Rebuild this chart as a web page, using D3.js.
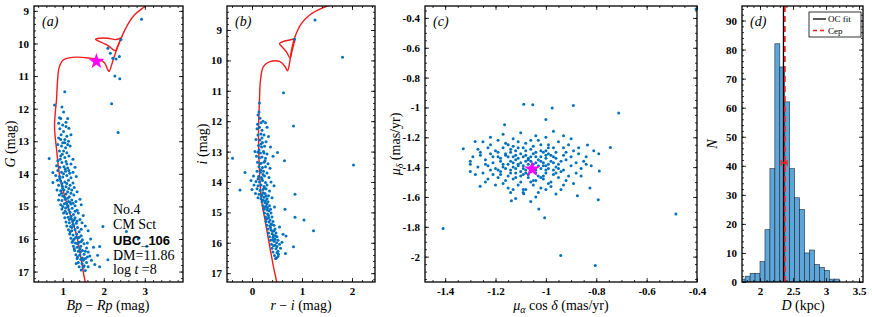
<!DOCTYPE html>
<html>
<head>
<meta charset="utf-8">
<script src="https://cdn.jsdelivr.net/npm/d3@7"></script>
<style>
  body { margin: 0; background: #fff; }
  text { font-family: "Liberation Serif", "Times New Roman", serif; fill: #000; }
</style>
</head>
<body>
<div id="vis"></div>
<script>
// ---- data ----
// (a) Gaia CMD: [Bp-Rp, G]
let cmdA = [
  [1.05,11.48],[0.80,11.89],[0.98,11.95],[1.02,12.1],[0.92,12.28],[0.95,12.3],[1.12,12.3],[0.90,12.45],[1.0,12.5],[1.08,12.42],
  [0.93,12.62],[1.02,12.7],[1.15,12.6],[0.96,12.8],[1.1,12.85],[1.2,12.8],[0.9,12.9],[1.05,12.95],[1.0,13.05],[1.14,13.0],
  [0.88,13.1],[0.97,13.15],[1.07,13.2],[1.18,13.15],[0.92,13.3],[1.02,13.3],[1.1,13.35],[0.67,13.53],[0.95,13.45],[1.05,13.5],
  [1.15,13.45],[1.25,13.55],[0.88,13.6],[0.98,13.65],[1.08,13.62],[1.2,13.7],[0.85,13.75],[0.93,13.8],[1.03,13.78],[1.12,13.82],
  [1.3,13.8],[0.76,13.96],[0.88,13.9],[0.97,13.95],[1.07,13.92],[1.17,13.98],[1.25,13.95],[0.83,14.05],[0.92,14.08],[1.0,14.1],
  [1.1,14.05],[1.2,14.12],[1.33,14.08],[0.76,14.27],[0.87,14.2],[0.95,14.22],[1.05,14.25],[1.14,14.2],[1.25,14.28],[0.9,14.35],
  [0.99,14.38],[1.08,14.4],[1.18,14.35],[1.28,14.42],[0.86,14.5],[0.95,14.52],[1.03,14.5],[1.12,14.55],[1.22,14.5],[1.35,14.55],
  [0.92,14.65],[1.0,14.68],[1.08,14.62],[1.16,14.7],[1.27,14.65],[0.9,14.8],[0.98,14.82],[1.06,14.78],[1.14,14.85],[1.22,14.8],
  [1.32,14.85],[1.42,14.78],[0.95,14.95],[1.04,14.92],[1.12,14.97],[1.2,14.93],[1.3,14.98],[1.45,14.95],[0.98,15.08],[1.07,15.05],
  [1.15,15.1],[1.23,15.06],[1.35,15.12],[1.02,15.2],[1.1,15.22],[1.18,15.18],[1.26,15.25],[1.38,15.2],[1.5,15.28],[1.05,15.35],
  [1.13,15.33],[1.21,15.38],[1.3,15.35],[1.42,15.4],[1.08,15.48],[1.16,15.5],[1.24,15.46],[1.33,15.52],[1.47,15.5],[1.1,15.6],
  [1.19,15.62],[1.27,15.6],[1.36,15.65],[1.55,15.6],[1.98,15.62],[1.14,15.72],[1.22,15.75],[1.3,15.72],[1.4,15.78],[1.62,15.75],
  [2.55,15.77],[1.17,15.85],[1.25,15.88],[1.34,15.85],[1.45,15.9],[1.2,15.98],[1.28,16.0],[1.37,15.97],[1.48,16.02],[1.68,16.0],
  [2.84,16.0],[1.23,16.1],[1.31,16.12],[1.4,16.1],[1.52,16.15],[1.9,16.23],[3.05,16.22],[1.26,16.22],[1.35,16.25],[1.44,16.22],
  [1.58,16.28],[1.75,16.25],[1.29,16.35],[1.38,16.38],[1.48,16.35],[1.62,16.4],[1.32,16.48],[1.41,16.5],[1.52,16.47],[1.66,16.52],
  [1.85,16.5],[2.1,16.64],[1.35,16.6],[1.44,16.62],[1.55,16.6],[1.7,16.65],[1.38,16.72],[1.47,16.75],[1.58,16.72],[1.78,16.78],
  [1.4,16.85],[1.5,16.87],[1.62,16.85],[1.9,16.85],[1.45,16.95],[1.55,16.97],[2.4,16.6],
  [1.0,14.45],[1.1,14.3],[1.2,14.6],[1.05,14.72],[1.25,14.9],[1.13,15.0],[1.3,15.15],[1.2,15.3],[1.35,15.45],[1.25,15.55],
  [1.45,15.7],[1.32,15.95],[1.42,16.3],[1.36,16.55],[1.5,16.65],[1.45,16.08],[1.55,16.38],[1.6,16.12],[1.28,15.42],[1.18,14.88],
  [0.97,14.6],[1.06,13.85],[0.99,13.4],[1.12,13.1],[1.08,12.55],
  [0.94,13.55],[1.1,13.7],[1.02,14.0],[0.93,14.15],[1.15,14.45],[1.09,14.9],[1.0,15.0],[1.16,15.4],[1.22,15.65],[1.28,16.3],
  [1.33,16.75],[1.43,16.4],[1.36,16.15],[1.25,16.05],[1.18,15.78],[1.06,15.15],[1.12,14.75],[0.98,14.3],[1.4,15.95],[1.52,16.82],
  [1.48,16.58],[1.6,16.55],[1.15,13.9],[1.05,13.05],[0.95,12.95],
  [2.92,9.26],[2.1,10.15],[2.16,10.3],[2.22,10.45],[2.3,10.48],[2.38,10.4],[2.42,9.88],[2.27,11.0],[2.39,11.08],[2.19,11.85],[2.35,12.73]
];
// (a) isochrone, main branch and blue loop: [Bp-Rp, G]
let isoA = [
  [1.56,17.4],[1.50,17.0],[1.41,16.33],[1.32,15.8],[1.17,15.2],[1.05,14.7],[0.93,14.1],[0.85,13.26],[0.80,12.56],[0.82,12.1],
  [0.85,11.7],[0.87,11.2],[0.91,10.75],[0.98,10.55],[1.05,10.48],[1.33,10.42],[1.66,10.45],[1.9,10.5],[2.02,10.6],[2.1,10.81],
  [2.13,10.86],[2.18,10.7],[2.23,10.5],[2.31,10.2],[2.39,9.94],[2.5,9.62],[2.6,9.38],[2.75,9.12],[2.9,8.96],[3.05,8.82]
];
let loopA = [
  [2.43,9.82],[2.3,9.88],[2.1,9.84],[1.9,9.84],[1.8,9.87],[1.95,9.97],[2.12,10.08],[2.24,10.2],[2.29,10.22],[2.34,10.08],[2.42,9.85]
];
// (b) SDSS-like CMD: [r-i, i]
let cmdB = [
  [0.15,11.4],[0.14,11.7],[0.12,11.8],[0.16,11.9],[0.22,12.0],[0.11,12.1],[0.18,12.05],[0.27,12.05],[0.1,12.25],[0.15,12.2],
  [0.2,12.3],[0.3,12.2],[0.12,12.45],[0.18,12.42],[0.24,12.45],[0.33,12.5],[0.08,12.6],[0.16,12.62],[0.21,12.7],[0.28,12.68],
  [0.13,12.8],[0.19,12.85],[0.25,12.82],[0.37,12.85],[0.06,13.0],[0.12,13.02],[0.17,13.05],[0.23,13.0],[0.3,13.08],[0.51,13.03],
  [0.09,13.15],[0.15,13.2],[0.2,13.18],[0.27,13.22],[0.42,13.15],[-0.39,13.22],[0.65,13.3],[0.11,13.35],[0.18,13.38],[0.24,13.35],
  [0.32,13.4],[0.14,13.5],[0.21,13.52],[0.27,13.5],[0.36,13.55],[-0.14,13.69],[0.1,13.65],[0.17,13.68],[0.23,13.65],[0.3,13.7],
  [0.03,13.8],[0.13,13.82],[0.19,13.85],[0.25,13.8],[0.34,13.85],[-0.02,13.95],[0.08,13.98],[0.15,14.0],[0.21,13.95],[0.27,14.02],
  [0.38,14.0],[0.04,14.1],[0.12,14.12],[0.18,14.1],[0.24,14.15],[0.3,14.1],[0.44,14.12],[-0.24,14.26],[0.0,14.25],[0.1,14.22],
  [0.16,14.28],[0.22,14.25],[0.28,14.22],[0.35,14.3],[0.86,14.4],[0.07,14.38],[0.14,14.4],[0.2,14.42],[0.26,14.38],[0.33,14.45],
  [0.12,14.52],[0.18,14.55],[0.24,14.5],[0.3,14.55],[0.4,14.52],[0.2,14.65],[0.26,14.68],[0.32,14.65],[0.22,14.78],[0.28,14.8],
  [0.35,14.78],[0.45,14.82],[0.24,14.9],[0.3,14.92],[0.37,14.9],[0.66,14.9],[0.25,15.02],[0.31,15.05],[0.38,15.02],[0.27,15.15],
  [0.33,15.18],[0.4,15.15],[0.86,15.16],[1.04,15.25],[0.28,15.3],[0.34,15.32],[0.42,15.3],[0.3,15.42],[0.36,15.45],[0.44,15.42],
  [0.55,15.48],[0.32,15.55],[0.38,15.58],[0.46,15.55],[1.23,15.6],[0.33,15.68],[0.4,15.7],[0.48,15.68],[0.62,15.72],[0.35,15.8],
  [0.42,15.82],[0.5,15.8],[0.68,15.78],[0.37,15.92],[0.44,15.95],[0.52,15.92],[0.6,15.98],[0.39,16.05],[0.46,16.08],[0.55,16.05],
  [0.83,16.13],[0.4,16.18],[0.48,16.2],[0.57,16.18],[0.67,16.35],[0.42,16.3],[0.5,16.33],[0.45,16.42],[0.52,16.45],[0.47,16.52],
  [0.22,14.6],[0.28,14.45],[0.3,14.72],[0.25,14.85],[0.33,15.1],[0.36,15.25],[0.38,15.38],[0.41,15.62],[0.43,15.75],[0.46,15.88],
  [0.49,16.0],[0.52,16.28],[0.25,14.2],[0.2,13.9],[0.18,13.6],[0.26,13.3],[0.14,12.95],[0.2,12.55],
  [0.22,14.35],[0.27,14.62],[0.31,14.85],[0.34,14.95],[0.29,15.22],[0.37,15.5],[0.4,15.4],[0.44,15.6],[0.47,15.78],[0.41,15.9],
  [0.5,16.12],[0.53,16.38],[0.43,16.1],[0.49,16.5],[0.16,13.4],[0.22,13.75],[0.19,14.45],[0.12,13.9],[0.24,13.05],[0.18,12.75],
  [1.26,8.67],[0.85,9.3],[1.81,9.9],[2.03,13.44],[0.63,11.06],[0.83,12.16]
];
let isoB = [
  [0.51,17.4],[0.43,16.79],[0.33,15.9],[0.26,15.25],[0.19,14.6],[0.15,13.7],[0.13,12.4],[0.15,11.3],[0.17,10.65],[0.23,10.2],
  [0.36,10.04],[0.56,10.04],[0.66,10.2],[0.71,10.34],[0.75,10.1],[0.79,9.66],[0.86,9.22],[0.99,8.78],[1.16,8.5],[1.39,8.29],[1.6,8.15]
];
let loopB = [
  [0.86,9.28],[0.75,9.33],[0.62,9.38],[0.55,9.45],[0.6,9.55],[0.69,9.72],[0.76,9.92],[0.8,9.7],[0.86,9.3]
];
// (c) proper motions: [pmra cos dec, pmdec] in mas/yr
let pmC = [
  [-1.17,-1.18],[-1.1,-1.17],[-1.04,-1.19],[-0.97,-1.16],[-0.93,-1.19],[-1.22,-1.2],[-1.0,-1.2],
  [-1.25,-1.23],[-1.19,-1.22],[-1.13,-1.21],[-1.08,-1.24],[-1.03,-1.22],[-0.99,-1.25],[-0.95,-1.23],[-0.9,-1.21],[-1.15,-1.25],[-1.22,-1.25],
  [-1.27,-1.28],[-1.23,-1.27],[-1.2,-1.29],[-1.17,-1.27],[-1.14,-1.3],[-1.11,-1.27],[-1.08,-1.29],[-1.05,-1.26],[-1.02,-1.29],[-0.99,-1.27],
  [-0.96,-1.3],[-0.93,-1.27],[-0.89,-1.29],[-1.13,-1.26],
  [-1.26,-1.32],[-1.22,-1.31],[-1.19,-1.33],[-1.16,-1.31],[-1.13,-1.33],[-1.1,-1.31],[-1.07,-1.34],[-1.05,-1.31],[-1.02,-1.33],[-0.99,-1.31],
  [-0.96,-1.34],[-0.93,-1.32],[-0.9,-1.33],[-0.87,-1.31],[-1.18,-1.34],[-1.09,-1.33],[-1.0,-1.34],
  [-1.3,-1.36],[-1.24,-1.35],[-1.21,-1.37],[-1.18,-1.36],[-1.15,-1.38],[-1.12,-1.35],[-1.1,-1.37],[-1.08,-1.36],[-1.05,-1.38],[-1.03,-1.35],
  [-1.01,-1.37],[-0.98,-1.36],[-0.95,-1.38],[-0.92,-1.35],[-0.88,-1.37],[-0.85,-1.36],[-1.14,-1.36],[-1.07,-1.35],[-0.97,-1.37],
  [-1.27,-1.4],[-1.23,-1.39],[-1.2,-1.41],[-1.17,-1.4],[-1.14,-1.42],[-1.11,-1.39],[-1.09,-1.41],[-1.06,-1.4],[-1.04,-1.42],[-1.01,-1.39],
  [-0.99,-1.41],[-0.96,-1.4],[-0.93,-1.42],[-0.9,-1.39],[-0.86,-1.41],[-1.12,-1.41],[-1.02,-1.41],
  [-1.25,-1.44],[-1.21,-1.45],[-1.18,-1.43],[-1.15,-1.46],[-1.12,-1.44],[-1.09,-1.45],[-1.06,-1.43],[-1.03,-1.46],[-1.0,-1.44],[-0.97,-1.45],
  [-0.94,-1.43],[-0.91,-1.46],[-0.88,-1.44],[-1.08,-1.44],
  [-1.23,-1.48],[-1.19,-1.47],[-1.16,-1.49],[-1.13,-1.48],[-1.1,-1.5],[-1.07,-1.47],[-1.04,-1.49],[-1.01,-1.48],[-0.98,-1.5],[-0.95,-1.47],[-0.92,-1.49],
  [-1.2,-1.52],[-1.15,-1.54],[-1.11,-1.52],[-1.08,-1.55],[-1.05,-1.52],[-1.02,-1.54],[-0.98,-1.53],[-0.94,-1.55],[-1.09,-1.55],
  [-1.16,-1.32],[-1.12,-1.32],[-1.08,-1.32],[-1.04,-1.33],[-1.0,-1.32],[-0.97,-1.33],[-1.11,-1.38],[-1.07,-1.38],[-1.03,-1.39],[-0.99,-1.38],
  [-1.13,-1.4],[-1.08,-1.42],[-1.05,-1.41],[-1.0,-1.42],[-0.97,-1.42],[-1.1,-1.43],[-1.04,-1.44],[-1.16,-1.41],[-1.06,-1.36],[-1.02,-1.36],
  [-1.14,-1.28],[-1.06,-1.28],[-1.0,-1.29],[-1.1,-1.46],[-1.02,-1.47],
  [-1.19,-1.3],[-1.15,-1.33],[-1.11,-1.34],[-1.06,-1.33],[-1.01,-1.3],[-0.98,-1.32],[-0.94,-1.36],[-1.17,-1.38],[-1.13,-1.37],[-1.09,-1.39],
  [-1.04,-1.37],[-1.0,-1.39],[-0.95,-1.41],[-1.19,-1.42],[-1.14,-1.44],[-1.07,-1.45],[-1.01,-1.46],[-0.96,-1.44],[-1.12,-1.47],[-1.05,-1.49],
  [-0.99,-1.51],[-1.17,-1.51],[-1.13,-1.55],[-1.03,-1.57],[-0.96,-1.58],[-1.21,-1.33],[-1.24,-1.38],[-1.29,-1.33],[-0.84,-1.33],[-0.82,-1.39],
  [-0.86,-1.46],[-0.89,-1.51],[-1.11,-1.23],[-1.06,-1.22],[-1.02,-1.25],[-0.97,-1.27],[-0.92,-1.3],[-1.09,-1.27],[-1.16,-1.24],[-1.26,-1.3],
  [-1.18,-1.45],[-1.22,-1.42],[-1.06,-1.5],[-0.93,-1.52],[-1.0,-1.55],[-1.14,-1.57],[-1.24,-1.5],[-0.91,-1.25],[-0.87,-1.27],[-1.04,-1.3],
  [-1.12,-1.29],
  [-1.408,-1.812],[-1.328,-1.277],[-1.281,-1.228],[-1.261,-1.529],[-1.28,-1.45],[-1.137,-1.625],[-1.12,-1.61],[-1.088,-1.578],
  [-1.088,-0.978],[-1.164,-1.116],[-1.3,-1.38],[-1.3,-1.43],[-0.404,-0.34],[-1.052,-0.982],[-0.975,-1.004],[-0.891,-0.987],
  [-0.711,-1.038],[-1.0,-1.08],[-0.744,-1.268],[-0.835,-1.252],[-0.81,-1.29],[-0.79,-1.31],[-0.788,-1.426],[-0.84,-1.38],
  [-0.875,-1.592],[-0.825,-1.54],[-0.792,-1.618],[-1.028,-1.68],[-1.005,-1.74],[-1.06,-1.63],[-0.941,-1.993],[-0.804,-2.06],
  [-0.484,-1.714],[-1.09,-1.57],[-1.04,-1.6]
];
let cepA = [1.82, 10.55];
let cepC = [-1.055, -1.413];
// (d) distance histogram
let distEdges = [1.70,1.775,1.85,1.925,2.0,2.075,2.15,2.225,2.3,2.375,2.45,2.525,2.6,2.675,2.75,2.825,2.9,2.975,3.05,3.125,3.2];
let distCounts = [1,2,3,3,7,18,39,82,74,62,39,29,25,10,11,6,5,4,1,1];
let ocFit = 2.355, cepD = 2.375, cepErr = [2.32, 2.41], errN = 41;

// ---- layout ----
let W = 872, H = 317, pTop = 6, pBottom = 282, ph = pBottom - pTop;
let blue = '#0072BD', red = '#ee1c1c';
let serif = '"Liberation Serif", "Times New Roman", serif';

let svg = d3.select('#vis').append('svg')
  .attr('width', W).attr('height', H)
  .attr('viewBox', [0, 0, W, H].join(' '));

let fmt = d => String(+d.toFixed(2));
let step = (a, b, s) => d3.range(Math.round((b - a) / s) + 1).map(i => +(a + i * s).toFixed(3));

function panel(o) {
  let w = o.right - o.left;
  let g = svg.append('g').attr('transform', `translate(${o.left},${pTop})`);
  let x = d3.scaleLinear().domain(o.xd).range([0, w]);
  let y = d3.scaleLinear().domain(o.yd).range(o.flip ? [0, ph] : [ph, 0]);

  g.append('clipPath').attr('id', 'clip' + o.id)
    .append('rect').attr('width', w).attr('height', ph);
  let plot = g.append('g').attr('clip-path', `url(#clip${o.id})`);

  function ax(gen, sc, vals, size, labels, tr) {
    g.append('g').attr('transform', tr)
      .call(gen(sc).tickValues(vals).tickSize(size).tickPadding(5)
        .tickFormat(labels ? fmt : () => ''))
      .call(s => s.select('.domain').remove())
      .call(s => s.selectAll('line').attr('stroke', '#000').attr('stroke-width', 0.8))
      .call(s => s.selectAll('text').style('font-family', serif)
        .style('font-weight', 'bold').style('font-size', '11px'));
  }
  let xm = o.xm.filter(v => v > o.xd[0] && v < o.xd[1]);
  let ym = o.ym.filter(v => v > d3.min(o.yd) && v < d3.max(o.yd));
  ax(d3.axisBottom, x, o.xt, -4, true, `translate(0,${ph})`);
  ax(d3.axisBottom, x, xm, -2, false, `translate(0,${ph})`);
  ax(d3.axisTop, x, o.xt, -4, false, 'translate(0,0)');
  ax(d3.axisTop, x, xm, -2, false, 'translate(0,0)');
  ax(d3.axisLeft, y, o.yt, -4, true, 'translate(0,0)');
  ax(d3.axisLeft, y, ym, -2, false, 'translate(0,0)');
  ax(d3.axisRight, y, o.yt, -4, false, `translate(${w},0)`);
  ax(d3.axisRight, y, ym, -2, false, `translate(${w},0)`);

  g.append('text').attr('x', 8).attr('y', 20)
    .style('font-size', '14px').style('font-style', 'italic').text(`(${o.id})`);

  return {g, plot, x, y, w};
}

function frame(p) {
  p.g.append('rect').attr('width', p.w).attr('height', ph)
    .attr('fill', 'none').attr('stroke', '#000').attr('stroke-width', 1.3);
}

function dots(p, data) {
  p.plot.selectAll(null).data(data).enter().append('circle')
    .attr('cx', d => p.x(d[0])).attr('cy', d => p.y(d[1]))
    .attr('r', 1.5).attr('fill', blue);
}

function curve(p, data) {
  p.plot.append('path').datum(data)
    .attr('d', d3.line().x(d => p.x(d[0])).y(d => p.y(d[1])).curve(d3.curveCatmullRom))
    .attr('fill', 'none').attr('stroke', red).attr('stroke-width', 1.4);
}

function star(p, d) {
  p.plot.append('path')
    .attr('d', d3.symbol(d3.symbolStar).size(80)())
    .attr('transform', `translate(${p.x(d[0])},${p.y(d[1])})`)
    .attr('fill', '#ff00ff');
}

// text pieces: [string, 'i' italic | 'sub' italic subscript]
function addParts(t, parts) {
  let shifted = false;
  parts.forEach(p => {
    let s = t.append('tspan').text(p[0]);
    if (p[1] === 'i') s.style('font-style', 'italic');
    if (p[1] === 'sub') {
      s.attr('dy', 3).style('font-size', '10px').style('font-style', 'italic');
      shifted = true;
    } else if (shifted) {
      s.attr('dy', -3);
      shifted = false;
    }
  });
}

function xlabel(cx, parts) {
  let t = svg.append('text').attr('x', cx).attr('y', 310)
    .attr('text-anchor', 'middle').style('font-size', '14px');
  addParts(t, parts);
}

function ylabel(cx, cy, parts) {
  let t = svg.append('text').attr('transform', `translate(${cx + 5},${cy}) rotate(-90)`)
    .attr('text-anchor', 'middle').style('font-size', '14px');
  addParts(t, parts);
}

// ---- (a) ----
let pa = panel({id: 'a', left: 34, right: 183, xd: [0.3, 3.93], yd: [8.85, 17.32], flip: true,
  xt: [1, 2, 3], xm: step(0.2, 3.8, 0.2), yt: step(9, 17, 1), ym: step(8.8, 17.4, 0.2)});
curve(pa, isoA);
curve(pa, loopA);
dots(pa, cmdA);
star(pa, cepA);
let note = pa.g.append('g').attr('transform', 'translate(79,0)');
[['No.4', 210], ['CM Sct', 225], ['DM=11.86', 256]].forEach(d => {
  note.append('text').attr('x', 0).attr('y', d[1] - pTop + 4).style('font-size', '14px').text(d[0]);
});
addParts(note.append('text').attr('x', 0).attr('y', 270 - pTop + 4).style('font-size', '14px'),
  [['log '], ['t', 'i'], [' =8']]);
note.append('text').attr('x', 0).attr('y', 241 - pTop + 4)
  .style('font-family', '"Liberation Sans", Arial, sans-serif').style('font-weight', 'bold')
  .style('font-size', '13px').text('UBC_106');
frame(pa);

// ---- (b) ----
let pb = panel({id: 'b', left: 227, right: 375, xd: [-0.5, 2.46], yd: [8.21, 17.29], flip: true,
  xt: [0, 1, 2], xm: step(-0.4, 2.4, 0.2), yt: step(9, 17, 1), ym: step(8.2, 17.4, 0.2)});
curve(pb, isoB);
curve(pb, loopB);
dots(pb, cmdB);
frame(pb);

// ---- (c) ----
let pc = panel({id: 'c', left: 425, right: 697, xd: [-1.48, -0.4], yd: [-2.17, -0.32],
  xt: step(-1.4, -0.4, 0.2), xm: step(-1.5, -0.4, 0.05), yt: step(-2, -0.4, 0.2), ym: step(-2.2, -0.3, 0.05)});
dots(pc, pmC);
star(pc, cepC);
frame(pc);

// ---- (d) ----
let pd = panel({id: 'd', left: 742, right: 863, xd: [1.727, 3.56], yd: [0, 95],
  xt: [2, 2.5, 3, 3.5], xm: step(1.8, 3.5, 0.1), yt: step(0, 90, 10), ym: step(0, 94, 2)});
pd.plot.selectAll(null).data(distCounts).enter().append('rect')
  .attr('x', (d, i) => pd.x(distEdges[i]))
  .attr('width', (d, i) => pd.x(distEdges[i + 1]) - pd.x(distEdges[i]))
  .attr('y', d => pd.y(d)).attr('height', d => pd.y(0) - pd.y(d))
  .attr('fill', '#5ea6d9').attr('stroke', '#1a2a3a').attr('stroke-width', 0.6);
pd.plot.append('line').attr('x1', pd.x(ocFit)).attr('x2', pd.x(ocFit)).attr('y1', 0).attr('y2', ph)
  .attr('stroke', '#000').attr('stroke-width', 1.3);
pd.plot.append('line').attr('x1', pd.x(cepD)).attr('x2', pd.x(cepD)).attr('y1', 0).attr('y2', ph)
  .attr('stroke', red).attr('stroke-width', 1.8).attr('stroke-dasharray', '6,4');
let ey = pd.y(errN);
pd.plot.append('line').attr('x1', pd.x(cepErr[0])).attr('x2', pd.x(cepErr[1])).attr('y1', ey).attr('y2', ey)
  .attr('stroke', red).attr('stroke-width', 1.2);
cepErr.forEach(v => pd.plot.append('line').attr('x1', pd.x(v)).attr('x2', pd.x(v))
  .attr('y1', ey - 3).attr('y2', ey + 3).attr('stroke', red).attr('stroke-width', 1.2));
pd.plot.append('circle').attr('cx', pd.x(cepD)).attr('cy', ey).attr('r', 1.6).attr('fill', red);
// legend
let lg = pd.g.append('g').attr('transform', `translate(${809 - 742},${12 - pTop})`);
lg.append('rect').attr('width', 52).attr('height', 25).attr('fill', '#fff').attr('stroke', '#000').attr('stroke-width', 0.8);
lg.append('line').attr('x1', 4).attr('x2', 17).attr('y1', 7).attr('y2', 7).attr('stroke', '#000').attr('stroke-width', 1.3);
lg.append('line').attr('x1', 4).attr('x2', 17).attr('y1', 18.5).attr('y2', 18.5).attr('stroke', red)
  .attr('stroke-width', 1.6).attr('stroke-dasharray', '4,3');
lg.append('text').attr('x', 19).attr('y', 10).style('font-size', '9px').text('OC fit');
lg.append('text').attr('x', 19).attr('y', 21.5).style('font-size', '9px').text('Cep');
frame(pd);

// ---- axis titles ----
xlabel(108, [['Bp', 'i'], [' − '], ['Rp', 'i'], [' (mag)']]);
xlabel(301, [['r', 'i'], [' − '], ['i', 'i'], [' (mag)']]);
xlabel(561, [['μ', 'i'], ['α', 'sub'], [' cos '], ['δ', 'i'], [' (mas/yr)']]);
xlabel(803, [['D', 'i'], [' (kpc)']]);
ylabel(10, 144, [['G', 'i'], [' (mag)']]);
ylabel(202, 144, [['i', 'i'], [' (mag)']]);
ylabel(395, 144, [['μ', 'i'], ['δ', 'sub'], [' (mas/yr)']]);
ylabel(712, 144, [['N', 'i']]);
</script>
</body>
</html>
